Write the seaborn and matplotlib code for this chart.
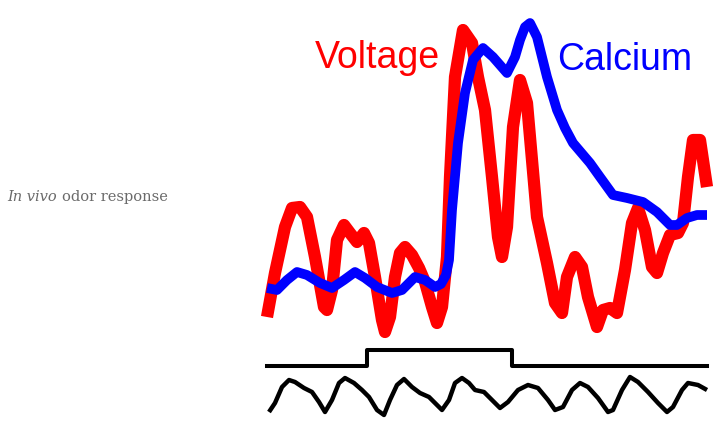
import matplotlib
matplotlib.use("Agg")
import matplotlib.pyplot as plt
import seaborn as sns

# traces (x = time position, y = screen level, top = 0)
voltage_x = [267, 275, 285, 292, 300, 307, 315, 324, 327, 332, 337, 344, 350, 357, 364,
             369, 375, 382, 385, 390, 395, 400, 405, 412, 419, 425, 432, 437, 442, 447,
             450, 455, 463, 472, 478, 485, 492, 498, 502, 507, 513, 520, 527, 532, 537,
             547, 555, 562, 567, 575, 582, 588, 597, 603, 610, 617, 625, 632, 638, 645,
             652, 657, 663, 670, 678, 683, 688, 693, 700, 707]
voltage_y = [317, 273, 227, 208, 207, 217, 257, 307, 310, 290, 240, 225, 233, 242, 233,
             243, 277, 320, 332, 317, 277, 253, 247, 255, 268, 282, 307, 323, 307, 257,
             177, 77, 30, 43, 77, 110, 177, 237, 257, 227, 127, 80, 103, 160, 217,
             263, 303, 313, 277, 257, 267, 297, 327, 310, 308, 313, 270, 223, 208, 230,
             267, 273, 253, 235, 233, 223, 177, 140, 140, 187]

calcium_x = [267, 277, 287, 297, 307, 320, 332, 344, 355, 365, 377, 392, 402, 415, 425,
             435, 441, 446, 449, 452, 458, 465, 473, 483, 493, 507, 515, 520, 525, 530,
             537, 547, 557, 565, 573, 590, 600, 613, 627, 643, 657, 670, 677, 687, 697, 707]
calcium_y = [288, 290, 280, 272, 275, 283, 288, 280, 272, 278, 287, 293, 290, 277, 280,
             287, 284, 275, 260, 210, 143, 93, 60, 48, 57, 73, 57, 40, 27, 23,
             37, 77, 110, 128, 143, 163, 177, 195, 198, 202, 212, 225, 225, 218, 215, 215]

odor_x = [267, 367, 512, 707]
odor_y = [366, 350, 366, 366]

resp_x = [269, 275, 282, 289, 295, 304, 312, 319, 325, 332, 339, 345, 354, 362, 369,
          377, 384, 390, 397, 404, 412, 420, 429, 435, 442, 449, 455, 462, 469, 475,
          484, 492, 500, 508, 518, 528, 538, 548, 555, 563, 572, 580, 588, 598, 608,
          613, 622, 630, 638, 648, 658, 667, 673, 682, 688, 698, 707]
resp_y = [412, 403, 387, 380, 382, 388, 392, 402, 412, 400, 383, 378, 383, 390, 397,
          410, 415, 400, 385, 379, 387, 393, 397, 403, 410, 400, 383, 378, 383, 390,
          392, 400, 408, 402, 390, 385, 388, 400, 410, 407, 390, 383, 387, 398, 412,
          410, 390, 377, 382, 392, 403, 412, 407, 390, 383, 385, 390]

fig = plt.figure(figsize=(7.21, 4.26), dpi=100)
fig.patch.set_facecolor("white")
ax = fig.add_axes([0, 0, 1, 1])
ax.set_xlim(0, 721)
ax.set_ylim(426, 0)
ax.axis("off")

line_kw = dict(solid_joinstyle="round", solid_capstyle="butt", legend=False)

sns.lineplot(x=voltage_x, y=voltage_y, color="#ff0000", linewidth=8.8, ax=ax, **line_kw)
sns.lineplot(x=calcium_x, y=calcium_y, color="#0000ff", linewidth=7, ax=ax, **line_kw)
sns.lineplot(x=odor_x, y=odor_y, color="black", linewidth=2.9,
             drawstyle="steps-post", ax=ax, legend=False)
sns.lineplot(x=resp_x, y=resp_y, color="black", linewidth=3.2, ax=ax, **line_kw)

ax.text(315, 68, "Voltage", color="#ff0000", fontsize=27,
        family="Liberation Sans", ha="left", va="baseline")
ax.text(557, 70, "Calcium", color="#0000ff", fontsize=27,
        family="Liberation Sans", ha="left", va="baseline")

# side caption
ax.text(7, 201, "In vivo", color="#6a6a6a", fontsize=10.5, style="italic",
        family="DejaVu Serif", ha="left", va="baseline")
ax.text(62, 201, "odor response", color="#6a6a6a", fontsize=10.5,
        family="DejaVu Serif", ha="left", va="baseline")

fig.savefig("out.png", dpi=100, facecolor="white")
